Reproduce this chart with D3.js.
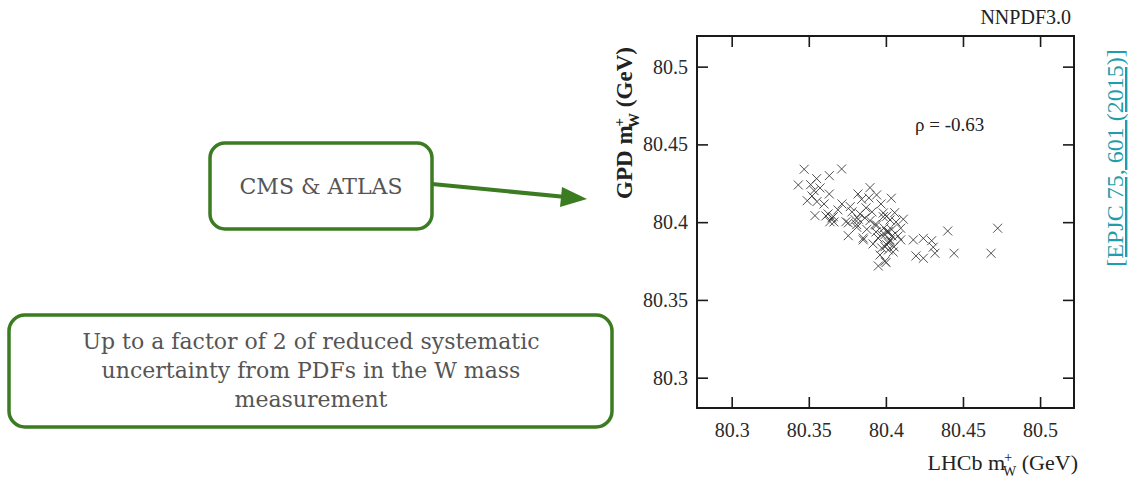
<!DOCTYPE html>
<html>
<head>
<meta charset="utf-8">
<script src="https://cdn.jsdelivr.net/npm/d3@7"></script>
<style>
  html, body { margin: 0; padding: 0; background: #fff; }
  svg { display: block; }
</style>
</head>
<body>
<svg id="chart" width="1128" height="478"></svg>
<script>
// ---- data ----
const lhcbMass = [
  80.347, 80.3713, 80.3633, 80.3551, 80.3432, 80.3512, 80.3534, 80.3633, 80.3819, 80.3897,
  80.3843, 80.394, 80.4035, 80.349, 80.3553, 80.3599, 80.3715, 80.3769, 80.3968, 80.4057,
  80.4113, 80.354, 80.3659, 80.3637, 80.3741, 80.3821, 80.3897, 80.3983, 80.3811, 80.3876,
  80.394, 80.4096, 80.3756, 80.3853, 80.3973, 80.4005, 80.4027, 80.4096, 80.4178, 80.4243,
  80.4297, 80.4401, 80.4725, 80.3994, 80.4318, 80.4442, 80.4682, 80.4195, 80.4243, 80.3951,
  80.4001, 80.4307, 80.4016,
  80.3649, 80.3625, 80.3663, 80.3756, 80.3811, 80.38, 80.3864, 80.3853, 80.3983, 80.3929,
  80.3994, 80.4016, 80.3973, 80.3994, 80.4038, 80.4005, 80.4016, 80.4027, 80.4005,
  80.3949, 80.404, 80.3988, 80.3936, 80.4053, 80.3962, 80.391, 80.3871, 80.3832, 80.378,
  80.3689, 80.3611, 80.3521, 80.3573, 80.389, 80.4066, 80.4079, 80.4027, 80.3917, 80.4047
];
const gpdMass = [
  80.434, 80.4342, 80.4299, 80.428, 80.4239, 80.4241, 80.4203, 80.4181, 80.4181, 80.4222,
  80.4147, 80.4175, 80.4154, 80.4138, 80.4132, 80.4117, 80.4117, 80.41, 80.4117, 80.4061,
  80.4019, 80.4042, 80.4035, 80.4003, 80.4003, 80.4019, 80.401, 80.4035, 80.3967, 80.3954,
  80.3982, 80.3961, 80.3913, 80.3886, 80.3918, 80.3939, 80.3886, 80.3886, 80.3886, 80.3896,
  80.3881, 80.3943, 80.3961, 80.3842, 80.38, 80.38, 80.38, 80.3783, 80.3768, 80.3718,
  80.374, 80.3839, 80.3821,
  80.4027, 80.4053, 80.4001, 80.3995, 80.3984, 80.4016, 80.4027, 80.3898, 80.4059, 80.3984,
  80.392, 80.3866, 80.3834, 80.3749, 80.3952, 80.4038, 80.3941, 80.3877, 80.3855,
  80.3898, 80.3911, 80.3963, 80.3937, 80.3841, 80.3789, 80.4066, 80.4092, 80.4053, 80.4066,
  80.4079, 80.404, 80.4168, 80.422, 80.4156, 80.4001, 80.3911, 80.4014, 80.386, 80.3808
];
const xTicks = [80.3, 80.35, 80.4, 80.45, 80.5];
const yTicks = [80.3, 80.35, 80.4, 80.45, 80.5];
const xDomain = [80.2775, 80.522];
const yDomain = [80.2805, 80.5197];
const tickLabels = ["80.3", "80.35", "80.4", "80.45", "80.5"];
const correlationLabel = "ρ = -0.63";
const pdfSetLabel = "NNPDF3.0";
const boxTop = "CMS & ATLAS";
const boxBottomLines = [
  "Up to a factor of 2 of reduced systematic",
  "uncertainty from PDFs in the W mass",
  "measurement"
];
const citation = "[EPJC 75, 601 (2015)]";

// ---- drawing ----
const svg = d3.select("#chart");
const serif = "'Liberation Serif', 'Times New Roman', serif";
const boxFont = "'DejaVu Serif', serif";
const green = "#3b7b21";
const grayText = "#555555";

const plot = { left: 697, right: 1074, top: 36, bottom: 408 };
const x = d3.scaleLinear().domain(xDomain).range([plot.left, plot.right]);
const y = d3.scaleLinear().domain(yDomain).range([plot.bottom, plot.top]);

const fmt = d => tickLabels[xTicks.indexOf(d)];
const tickLen = 11;

const gx = svg.append("g").attr("transform", `translate(0,${plot.bottom})`)
  .call(d3.axisBottom(x).tickValues(xTicks).tickFormat(fmt)
    .tickSizeInner(-tickLen).tickSizeOuter(0).tickPadding(15));
const gxt = svg.append("g").attr("transform", `translate(0,${plot.top})`)
  .call(d3.axisTop(x).tickValues(xTicks).tickFormat("")
    .tickSizeInner(-tickLen).tickSizeOuter(0));
const gy = svg.append("g").attr("transform", `translate(${plot.left},0)`)
  .call(d3.axisLeft(y).tickValues(yTicks).tickFormat(d => tickLabels[yTicks.indexOf(d)])
    .tickSizeInner(-tickLen).tickSizeOuter(0).tickPadding(9));
const gyr = svg.append("g").attr("transform", `translate(${plot.right},0)`)
  .call(d3.axisRight(y).tickValues(yTicks).tickFormat("")
    .tickSizeInner(-tickLen).tickSizeOuter(0));

[gx, gxt, gy, gyr].forEach(g => {
  g.attr("font-family", serif).attr("font-size", 20);
  g.select(".domain").remove();
  g.selectAll(".tick line").attr("stroke", "#1a1a1a").attr("stroke-width", 1.6);
  g.selectAll(".tick text").style("font-family", serif).style("font-size", "20px").attr("fill", "#2a2a2a");
});

svg.append("rect")
  .attr("x", plot.left).attr("y", plot.top)
  .attr("width", plot.right - plot.left).attr("height", plot.bottom - plot.top)
  .attr("fill", "none").attr("stroke", "#1a1a1a").attr("stroke-width", 2);

const pts = lhcbMass.map((v, i) => ({ x: v, y: gpdMass[i] }));
const cross = "M-4.5,-4.5L4.5,4.5M-4.5,4.5L4.5,-4.5";
svg.append("g").selectAll("path").data(pts).join("path")
  .attr("d", cross)
  .attr("transform", d => `translate(${x(d.x)},${y(d.y)})`)
  .attr("fill", "none").attr("stroke", "#333").attr("stroke-opacity", 0.85).attr("stroke-width", 1);

svg.append("text").attr("x", 915).attr("y", 131)
  .style("font-family", serif).style("font-size", "19px").attr("fill", "#222")
  .text(correlationLabel);
svg.append("text").attr("x", 1071).attr("y", 24).attr("text-anchor", "end")
  .style("font-family", serif).style("font-size", "20px").attr("fill", "#222")
  .text(pdfSetLabel);

const xt = svg.append("text").attr("x", 1078).attr("y", 470).attr("text-anchor", "end")
  .style("font-family", serif).style("font-size", "22px").attr("fill", "#222");
xt.append("tspan").text("LHCb m");
xt.append("tspan").style("font-size", "14px").attr("dy", -8).attr("dx", -1).text("+");
xt.append("tspan").style("font-size", "14px").attr("dy", 14).attr("dx", -9).text("W");
xt.append("tspan").attr("dy", -6).text(" (GeV)");

const yt = svg.append("text").attr("transform", "translate(632,123) rotate(-90)")
  .attr("text-anchor", "middle")
  .style("font-family", serif).style("font-size", "23px").attr("font-weight", "bold").attr("fill", "#222");
yt.append("tspan").text("GPD m");
yt.append("tspan").style("font-size", "15px").attr("dy", -8).attr("dx", -1).text("+");
yt.append("tspan").style("font-size", "15px").attr("dy", 15).attr("dx", -10).text("W");
yt.append("tspan").attr("dy", -7).text(" (GeV)");

svg.append("text").attr("transform", "translate(1123,158) rotate(-90)")
  .attr("text-anchor", "middle")
  .style("font-family", serif).style("font-size", "24px").attr("fill", "#1f9dab")
  .attr("text-decoration", "underline")
  .text(citation);

svg.append("rect").attr("x", 210).attr("y", 143).attr("width", 222).attr("height", 86)
  .attr("rx", 15).attr("fill", "#fff").attr("stroke", green).attr("stroke-width", 3.5);
svg.append("text").attr("x", 321).attr("y", 186).attr("text-anchor", "middle")
  .attr("dominant-baseline", "central")
  .style("font-family", boxFont).style("font-size", "22px").attr("fill", grayText)
  .text(boxTop);

svg.append("line").attr("x1", 432).attr("y1", 184).attr("x2", 566).attr("y2", 197)
  .attr("stroke", green).attr("stroke-width", 4);
svg.append("path").attr("d", "M587,199L562,187L560,207Z").attr("fill", green);

svg.append("rect").attr("x", 9).attr("y", 315).attr("width", 603).attr("height", 112)
  .attr("rx", 16).attr("fill", "#fff").attr("stroke", green).attr("stroke-width", 3.5);
const bt = svg.append("text").attr("text-anchor", "middle")
  .style("font-family", boxFont).style("font-size", "22px").attr("fill", grayText);
boxBottomLines.forEach((l, i) => {
  bt.append("tspan").attr("x", 311).attr("y", 349 + i * 29).text(l);
});
</script>
</body>
</html>
